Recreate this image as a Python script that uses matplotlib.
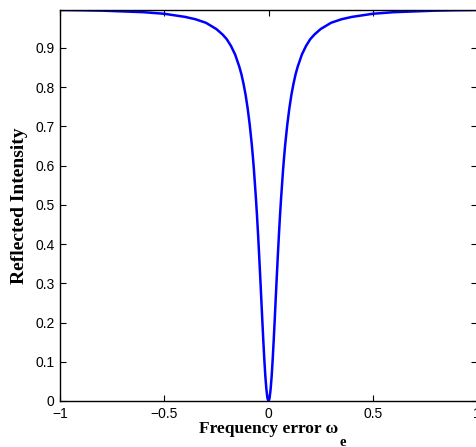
import numpy as np
import matplotlib
matplotlib.use("Agg")
import matplotlib.pyplot as plt

# Right half of the dip (curve is symmetric about 0)
freq_half = [0.0, 0.005, 0.01, 0.015, 0.02, 0.025, 0.03, 0.035, 0.04, 0.045,
             0.05, 0.055, 0.06, 0.07, 0.075, 0.08, 0.09, 0.10, 0.11, 0.12,
             0.13, 0.14, 0.16, 0.18, 0.20, 0.22, 0.25, 0.30, 0.35, 0.40,
             0.50, 0.60, 0.70, 0.80, 0.90, 1.0]
refl_half = [0.0, 0.007, 0.029, 0.062, 0.105, 0.155, 0.209, 0.265, 0.320, 0.373,
             0.424, 0.471, 0.514, 0.590, 0.623, 0.653, 0.704, 0.746, 0.781, 0.809,
             0.833, 0.852, 0.883, 0.905, 0.922, 0.934, 0.948, 0.964, 0.973, 0.979,
             0.987, 0.991, 0.993, 0.995, 0.996, 0.9966]

x_ticks = [-1, -0.5, 0, 0.5, 1]
y_ticks = [0, 0.1, 0.2, 0.3, 0.4, 0.5, 0.6, 0.7, 0.8, 0.9]

# mirror the read half onto the negative side
freq = np.concatenate([-np.array(freq_half[:0:-1]), freq_half])
refl = np.concatenate([np.array(refl_half[:0:-1]), refl_half])

plt.rcParams["font.family"] = ["Liberation Sans", "DejaVu Sans"]

fig = plt.figure(figsize=(4.76, 4.47), dpi=100)
ax = fig.add_axes([60 / 476, 1 - 401 / 447, 417 / 476, 391 / 447])

ax.plot(freq, refl, color="#0000ff", linewidth=1.8)

ax.set_xlim(-1, 1)
ax.set_ylim(0, 0.9966)
ax.set_xticks(x_ticks)
ax.set_xticklabels(["\u22121", "\u22120.5", "0", "0.5", "1"])
ax.set_yticks(y_ticks)
ax.set_yticklabels(["0", "0.1", "0.2", "0.3", "0.4", "0.5", "0.6", "0.7", "0.8", "0.9"])
ax.tick_params(direction="in", top=True, right=True, length=4, width=0.8,
               labelsize=10, pad=4)
for s in ax.spines.values():
    s.set_linewidth(1.0)

serif = dict(family="Liberation Serif", fontweight="bold")
xl = ax.set_xlabel("Frequency error \u03c9", fontsize=12.5, labelpad=0, **serif)
ax.set_ylabel("Reflected Intensity", fontsize=14, labelpad=5, **serif)

# subscript e placed low, after the omega
fig.canvas.draw()
bb = xl.get_window_extent()
fig.text((bb.x1 + 1) / 476, 1.5 / 447, "e", fontsize=10.5,
         va="baseline", ha="left", **serif)

fig.savefig("out.png", dpi=100)
